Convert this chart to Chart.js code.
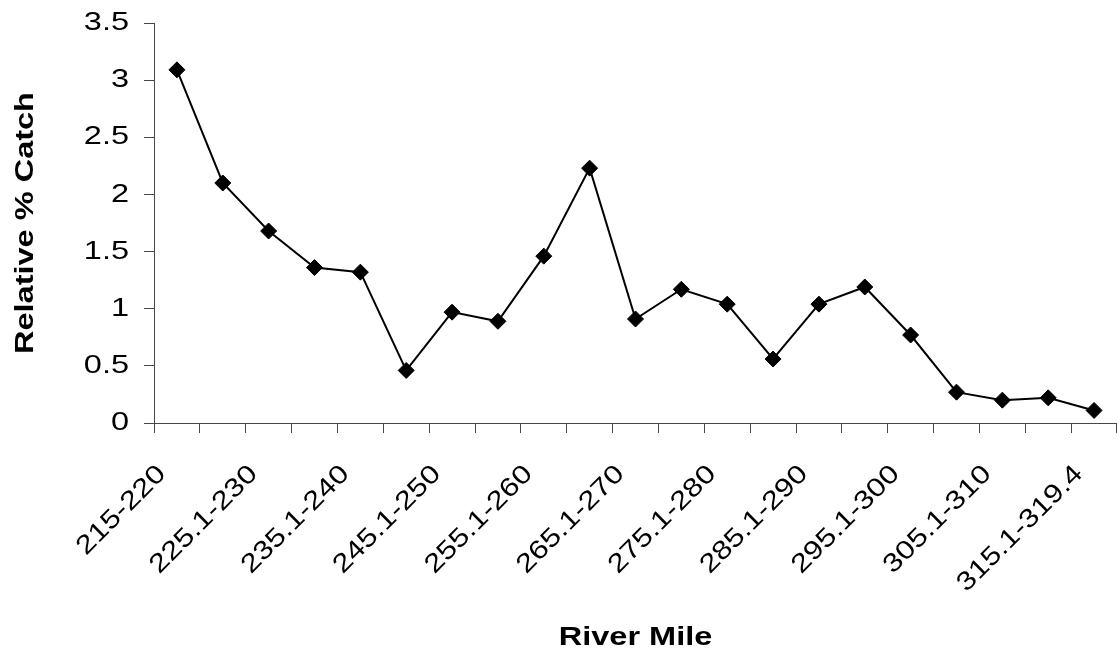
<!DOCTYPE html>
<html>
<head>
<meta charset="utf-8">
<script src="https://cdn.jsdelivr.net/npm/chart.js@4/dist/chart.umd.min.js"></script>
<style>
  html, body { margin: 0; padding: 0; background: #ffffff; }
  #wrap { width: 1117px; height: 654px; }
</style>
</head>
<body>
<div id="wrap"><canvas id="c" width="1117" height="654"></canvas></div>
<script>
// River mile reaches, 5-mile stretches
const riverMiles = [
  '215-220', '220.1-225', '225.1-230', '230.1-235', '235.1-240',
  '240.1-245', '245.1-250', '250.1-255', '255.1-260', '260.1-265',
  '265.1-270', '270.1-275', '275.1-280', '280.1-285', '285.1-290',
  '290.1-295', '295.1-300', '300.1-305', '305.1-310', '310.1-315',
  '315.1-319.4'
];

// Relative percent of total catch in each reach
const relativeCatch = [
  3.09, 2.10, 1.68, 1.36, 1.32,
  0.46, 0.97, 0.89, 1.46, 2.23,
  0.91, 1.17, 1.04, 0.56, 1.04,
  1.19, 0.77, 0.27, 0.20, 0.22,
  0.11
];

const yMin = 0;
const yMax = 3.5;
const yStep = 0.5;

const FONT = '"Liberation Sans", Arial, sans-serif';
const AXIS_GREY = '#474747';
const TEXT_WIDEN = 1.25;       // upright and vertical lettering runs wide
const SLANT_TEXT_WIDEN = 1.2;  // the 45-degree category labels a little less so

// Widen every glyph run horizontally about its own anchor point
const wideText = {
  id: 'wideText',
  beforeInit(chart) {
    const ctx = chart.ctx;
    const fill = ctx.fillText;
    ctx.fillText = function (text, x, y, maxWidth) {
      const m = this.getTransform();
      const slanted = Math.abs(m.b) > 0.3 && Math.abs(m.b) < 0.9;
      this.save();
      this.translate(x, y);
      this.scale(slanted ? SLANT_TEXT_WIDEN : TEXT_WIDEN, 1);
      if (maxWidth === undefined) fill.call(this, text, 0, 0);
      else fill.call(this, text, 0, 0, maxWidth);
      this.restore();
    };
  }
};

new Chart(document.getElementById('c'), {
  type: 'line',
  plugins: [wideText],
  data: {
    labels: riverMiles,
    datasets: [{
      data: relativeCatch,
      borderColor: '#000000',
      borderWidth: 2,
      tension: 0,
      fill: false,
      pointStyle: 'rectRot',
      pointRadius: 8,
      pointHoverRadius: 8,
      pointBackgroundColor: '#000000',
      pointBorderColor: '#000000',
      pointBorderWidth: 1
    }]
  },
  options: {
    responsive: false,
    animation: false,
    devicePixelRatio: 1,
    layout: { autoPadding: false, padding: { top: 23, right: 0, left: 0, bottom: 0 } },
    plugins: {
      legend: { display: false },
      tooltip: { enabled: false }
    },
    scales: {
      x: {
        type: 'category',
        offset: true,
        grid: {
          offset: true,
          drawOnChartArea: false,
          drawTicks: true,
          tickLength: 10,
          color: AXIS_GREY,
          lineWidth: 1
        },
        border: { display: true, color: AXIS_GREY, width: 1 },
        ticks: {
          autoSkip: false,
          maxRotation: 45,
          minRotation: 45,
          padding: 26,
          labelOffset: -15,
          color: '#000000',
          font: { family: FONT, size: 26 },
          callback: function (value, index) {
            return index % 2 === 0 ? this.getLabelForValue(value) : '';
          }
        },
        title: {
          display: true,
          text: 'River Mile',
          color: '#000000',
          font: { family: FONT, size: 26, weight: 'bold' },
          padding: { top: 0, bottom: 1 }
        },
        afterFit: function (scale) {
          scale.height = 231;
          scale.paddingLeft = 0;
          scale.paddingRight = 0;
        }
      },
      y: {
        min: yMin,
        max: yMax,
        grid: {
          drawOnChartArea: false,
          drawTicks: true,
          tickLength: 10,
          color: AXIS_GREY,
          lineWidth: 1
        },
        border: { display: true, color: AXIS_GREY, width: 1 },
        ticks: {
          stepSize: yStep,
          padding: 15,
          color: '#000000',
          font: { family: FONT, size: 26 },
          callback: (v) => String(v)
        },
        title: {
          display: true,
          text: 'Relative % Catch',
          color: '#000000',
          font: { family: FONT, size: 26, weight: 'bold' },
          padding: { top: 10, bottom: 4 }
        },
        afterFit: function (scale) {
          scale.width = 154;
          scale.paddingTop = 0;
          scale.paddingBottom = 0;
        }
      }
    }
  }
});
</script>
</body>
</html>
